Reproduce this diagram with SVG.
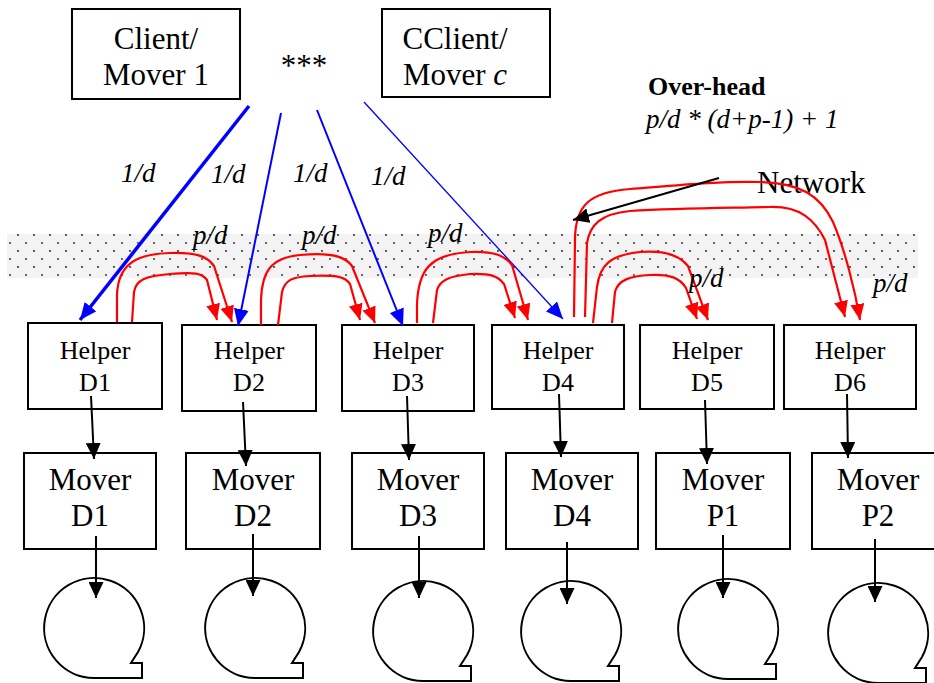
<svg xmlns="http://www.w3.org/2000/svg" width="934" height="683" viewBox="0 0 934 683">
  <style>
    .box { fill: #ffffff; stroke: #000000; stroke-width: 2; }
    .tape { fill: none; stroke: #000000; stroke-width: 2; }
    .t { font-family: "Liberation Serif", "Times New Roman", serif; fill: #000000; text-anchor: middle; }
    .big { font-size: 31px; }
    .mid { font-size: 26px; }
    .lbl { font-family: "Liberation Serif", "Times New Roman", serif; font-style: italic; font-size: 27px; fill: #000000; }
    .red { fill: none; stroke: #ff0000; stroke-width: 2.2; marker-end: url(#ah-red); }
    .blue { fill: none; stroke: #0000ff; marker-end: url(#ah-blue); }
    .blk { fill: none; stroke: #000000; stroke-width: 2; marker-end: url(#ah-black); }
  </style>
  <defs>
    <pattern id="dots" x="0" y="234" width="16" height="16" patternUnits="userSpaceOnUse">
      <rect width="16" height="16" fill="#f3f3f3"/>
      <circle cx="2" cy="1" r="1.1" fill="#4a4a4a"/>
      <circle cx="10" cy="9" r="1.1" fill="#4a4a4a"/>
    </pattern>
    <marker id="ah-red" viewBox="0 0 16 14" refX="16" refY="7" markerWidth="16" markerHeight="14" markerUnits="userSpaceOnUse" orient="auto">
      <path d="M0,0 L16,7 L0,14 Z" fill="#ff0000"/>
    </marker>
    <marker id="ah-blue" viewBox="0 0 17 15" refX="17" refY="7.5" markerWidth="17" markerHeight="15" markerUnits="userSpaceOnUse" orient="auto">
      <path d="M0,0 L17,7.5 L0,15 Z" fill="#0000ff"/>
    </marker>
    <marker id="ah-black" viewBox="0 0 16 15" refX="16" refY="7.5" markerWidth="16" markerHeight="15" markerUnits="userSpaceOnUse" orient="auto">
      <path d="M0,0 L16,7.5 L0,15 Z" fill="#000000"/>
    </marker>
  </defs>

  <rect width="934" height="683" fill="#ffffff"/>

  <!-- shared network band -->
  <rect id="network-band" x="7" y="234" width="911" height="44" fill="url(#dots)"/>

  <!-- clients -->
  <g id="client-1">
    <rect class="box" x="72" y="9" width="168" height="90"/>
    <text class="t big" x="156" y="49">Client/</text>
    <text class="t big" x="156" y="85">Mover 1</text>
  </g>
  <text class="t big" x="304" y="76">***</text>
  <g id="client-c">
    <rect class="box" x="382" y="9" width="168" height="88"/>
    <text class="t big" x="455" y="49">CClient/</text>
    <text class="t big" x="455" y="85">Mover <tspan font-style="italic">c</tspan></text>
  </g>

  <!-- overhead note -->
  <text x="648" y="95" font-family="Liberation Serif, serif" font-weight="bold" font-size="26">Over-head</text>
  <text class="lbl" x="646" y="128" font-size="26">p/d * (d+p-1) + 1</text>
  <text x="757" y="193" font-family="Liberation Serif, serif" font-size="31">Network</text>

  <!-- helpers -->
  <g id="helper-d1"><rect class="box" x="28" y="323" width="134" height="86"/><text class="t mid" x="95" y="359">Helper</text><text class="t mid" x="95" y="391">D1</text></g>
  <g id="helper-d2"><rect class="box" x="182" y="325" width="134" height="86"/><text class="t mid" x="249" y="359">Helper</text><text class="t mid" x="249" y="391">D2</text></g>
  <g id="helper-d3"><rect class="box" x="342" y="325" width="132" height="86"/><text class="t mid" x="408" y="359">Helper</text><text class="t mid" x="408" y="391">D3</text></g>
  <g id="helper-d4"><rect class="box" x="492" y="325" width="132" height="84"/><text class="t mid" x="558" y="359">Helper</text><text class="t mid" x="558" y="391">D4</text></g>
  <g id="helper-d5"><rect class="box" x="640" y="325" width="134" height="84"/><text class="t mid" x="707" y="359">Helper</text><text class="t mid" x="707" y="391">D5</text></g>
  <g id="helper-d6"><rect class="box" x="784" y="325" width="132" height="84"/><text class="t mid" x="850" y="359">Helper</text><text class="t mid" x="850" y="391">D6</text></g>

  <!-- movers -->
  <g id="mover-d1"><rect class="box" x="24" y="453" width="132" height="96"/><text class="t big" x="90" y="490">Mover</text><text class="t big" x="90" y="526">D1</text></g>
  <g id="mover-d2"><rect class="box" x="186" y="453" width="134" height="96"/><text class="t big" x="253" y="490">Mover</text><text class="t big" x="253" y="526">D2</text></g>
  <g id="mover-d3"><rect class="box" x="352" y="453" width="132" height="96"/><text class="t big" x="418" y="490">Mover</text><text class="t big" x="418" y="526">D3</text></g>
  <g id="mover-d4"><rect class="box" x="506" y="453" width="132" height="96"/><text class="t big" x="572" y="490">Mover</text><text class="t big" x="572" y="526">D4</text></g>
  <g id="mover-p1"><rect class="box" x="656" y="453" width="134" height="96"/><text class="t big" x="723" y="490">Mover</text><text class="t big" x="723" y="526">P1</text></g>
  <g id="mover-p2"><rect class="box" x="812" y="453" width="132" height="96"/><text class="t big" x="878" y="490">Mover</text><text class="t big" x="878" y="526">P2</text></g>

  <!-- tape stores: circle with a tail at the lower right -->
  <g id="tape-1"><path class="tape" d="M94,678 A50,50 0 1 1 138,652 L131,663 L142,663 L142,678 Z"/></g>
  <g id="tape-2"><path class="tape" d="M255,678 A50,50 0 1 1 299,652 L292,663 L303,663 L303,678 Z"/></g>
  <g id="tape-3"><path class="tape" d="M423,681 A50,50 0 1 1 467,655 L460,666 L471,666 L471,681 Z"/></g>
  <g id="tape-4"><path class="tape" d="M571,681 A50,50 0 1 1 615,655 L608,666 L619,666 L619,681 Z"/></g>
  <g id="tape-5"><path class="tape" d="M728,679 A50,50 0 1 1 772,653 L765,664 L776,664 L776,679 Z"/></g>
  <g id="tape-6"><path class="tape" d="M878,683 A50,50 0 1 1 922,657 L915,668 L926,668 L926,683 Z"/></g>

  <!-- connectors -->
  <g id="connectors">
    <!-- clients to helpers -->
    <path class="blue" stroke-width="3.5" d="M249,106 L80,320"/>
    <path class="blue" stroke-width="2" d="M281,113 L238,326"/>
    <path class="blue" stroke-width="2" d="M317,110 L403,326"/>
    <path class="blue" stroke-width="1.3" d="M364,102 L563,319"/>

    <!-- helper to helper transfers -->
    <path class="red" d="M117,322 L117,295 C118,265 135,254 170,253 C195,252 207,256 214,266 L232,322"/>
    <path class="red" d="M132,322 L134,292 C136,280 145,276 170,274 C195,272 202,273 207,280 L217,320"/>
    <path class="red" d="M261,325 L261,300 C262,272 270,258 300,255 C330,252 345,256 352,266 L375,323"/>
    <path class="red" d="M278,325 L282,292 C285,280 292,277 310,276 C335,275 345,276 350,284 L360,320"/>
    <path class="red" d="M417,323 L417,305 C418,270 430,254 470,252 C495,251 505,256 512,265 L528,320"/>
    <path class="red" d="M433,323 L437,290 C440,280 450,276 470,274 C490,273 498,276 504,284 L515,318"/>
    <path class="red" d="M593,323 L597,287 C600,265 610,255 640,252 C665,250 680,256 688,266 L708,320"/>
    <path class="red" d="M612,323 L615,292 C618,280 630,276 650,275 C670,274 680,278 686,288 L697,319"/>
    <path class="red" d="M574,317 L575,240 C575,205 590,192 630,189 C680,185 720,181 760,182 C800,183 820,195 833,222 C845,250 855,290 860,320"/>
    <path class="red" d="M585,317 L587,243 C590,225 600,214 630,211 C680,208 730,208 770,207 C800,206 815,220 825,240 L845,317"/>

    <!-- network pointer -->
    <path class="blk" d="M719,178 L573,220"/>

    <!-- helpers to movers -->
    <path class="blk" d="M91,396 L94,459"/>
    <path class="blk" d="M243,402 L246,466"/>
    <path class="blk" d="M407,396 L409,460"/>
    <path class="blk" d="M559,394 L561,457"/>
    <path class="blk" d="M705,400 L707,464"/>
    <path class="blk" d="M847,394 L848,458"/>

    <!-- movers to tapes -->
    <path class="blk" d="M96,536 L96,598"/>
    <path class="blk" d="M253,534 L253,596"/>
    <path class="blk" d="M419,536 L419,598"/>
    <path class="blk" d="M567,542 L567,604"/>
    <path class="blk" d="M723,535 L723,598"/>
    <path class="blk" d="M875,539 L875,602"/>
  </g>

  <!-- rate labels -->
  <text class="lbl" x="121" y="182">1/d</text>
  <text class="lbl" x="211" y="183">1/d</text>
  <text class="lbl" x="293" y="182">1/d</text>
  <text class="lbl" x="371" y="185">1/d</text>
  <text class="lbl" x="193" y="244">p/d</text>
  <text class="lbl" x="302" y="244">p/d</text>
  <text class="lbl" x="428" y="242">p/d</text>
  <text class="lbl" x="689" y="287">p/d</text>
  <text class="lbl" x="873" y="292">p/d</text>
</svg>
